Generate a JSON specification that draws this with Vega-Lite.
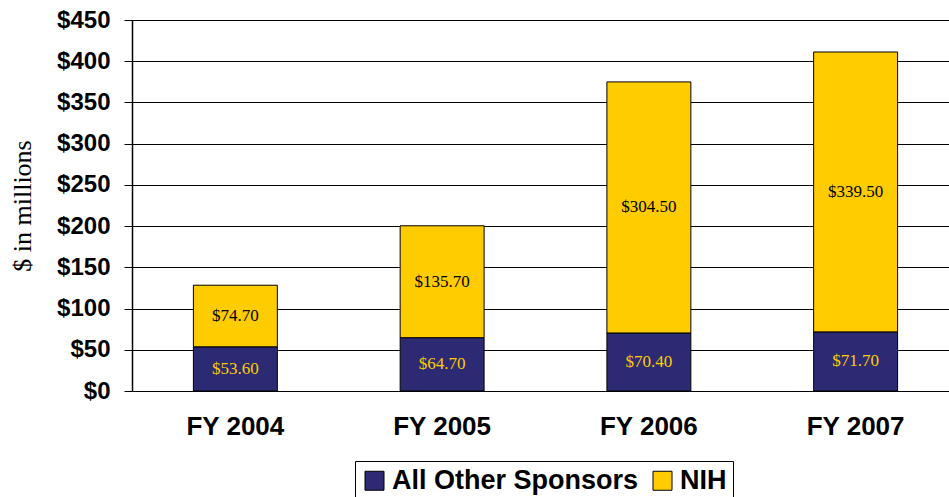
{
  "$schema": "https://vega.github.io/schema/vega-lite/v6.json",
  "autosize": "none",
  "width": 827,
  "height": 371,
  "padding": {"left": 132, "top": 20, "right": 0, "bottom": 106},
  "background": "white",
  "config": {"view": {"stroke": null}},
  "data": {
    "values": [
      {"year": "FY 2004", "sponsor": "All Other Sponsors", "amount": 53.6},
      {"year": "FY 2004", "sponsor": "NIH", "amount": 74.7},
      {"year": "FY 2005", "sponsor": "All Other Sponsors", "amount": 64.7},
      {"year": "FY 2005", "sponsor": "NIH", "amount": 135.7},
      {"year": "FY 2006", "sponsor": "All Other Sponsors", "amount": 70.4},
      {"year": "FY 2006", "sponsor": "NIH", "amount": 304.5},
      {"year": "FY 2007", "sponsor": "All Other Sponsors", "amount": 71.7},
      {"year": "FY 2007", "sponsor": "NIH", "amount": 339.5}
    ]
  },
  "transform": [
    {"stack": "amount", "groupby": ["year"], "sort": [{"field": "sponsor", "order": "ascending"}], "as": ["y0", "y1"]},
    {"calculate": "(datum.y0 + datum.y1) / 2", "as": "ymid"},
    {"calculate": "'$' + format(datum.amount, '.2f')", "as": "label"}
  ],
  "encoding": {
    "x": {
      "field": "year",
      "type": "nominal",
      "sort": null,
      "scale": {"paddingInner": 0.594, "paddingOuter": 0.297},
      "axis": {
        "title": null,
        "labelAngle": 0,
        "domain": false,
        "ticks": false,
        "labelFont": "Liberation Sans",
        "labelFontWeight": "bold",
        "labelFontSize": 26,
        "labelColor": "black",
        "labelPadding": 22
      }
    }
  },
  "layer": [
    {
      "mark": {"type": "bar", "stroke": "black", "strokeWidth": 1},
      "encoding": {
        "y": {
          "field": "y0",
          "type": "quantitative",
          "scale": {"domain": [0, 450], "nice": false},
          "axis": {
            "title": "$ in millions",
            "values": [0, 50, 100, 150, 200, 250, 300, 350, 400, 450],
            "labelExpr": "'$' + datum.value",
            "grid": true,
            "gridColor": "black",
            "gridOpacity": 1,
            "gridWidth": 1,
            "domainColor": "black",
            "domainWidth": 1.5,
            "tickColor": "black",
            "tickSize": 8,
            "labelFont": "Liberation Sans",
            "labelFontWeight": "bold",
            "labelFontSize": 24,
            "labelColor": "black",
            "labelPadding": 14,
            "titleFont": "Liberation Serif",
            "titleFontWeight": "normal",
            "titleFontSize": 26,
            "titleColor": "black",
            "titlePadding": 21
          }
        },
        "y2": {"field": "y1"},
        "color": {
          "field": "sponsor",
          "type": "nominal",
          "scale": {"domain": ["All Other Sponsors", "NIH"], "range": ["#2B2A73", "#FFCC00"]},
          "legend": {
            "title": null,
            "orient": "none",
            "direction": "horizontal",
            "legendX": 223,
            "legendY": 441,
            "strokeColor": "black",
            "padding": 6,
            "symbolType": "square",
            "symbolSize": 361,
            "symbolStrokeColor": "black",
            "symbolStrokeWidth": 1,
            "symbolOpacity": 1,
            "labelFont": "Liberation Sans",
            "labelFontWeight": "bold",
            "labelFontSize": 27,
            "labelColor": "black",
            "labelLimit": 400,
            "labelOffset": 4,
            "columnPadding": 10
          }
        }
      }
    },
    {
      "mark": {"type": "text", "font": "Liberation Serif", "fontSize": 17, "baseline": "middle", "align": "center"},
      "encoding": {
        "y": {"field": "ymid", "type": "quantitative", "scale": {"domain": [0, 450], "nice": false}},
        "text": {"field": "label"},
        "color": {"condition": {"test": "datum.sponsor === 'NIH'", "value": "black"}, "value": "#FFCC00"}
      }
    }
  ]
}
